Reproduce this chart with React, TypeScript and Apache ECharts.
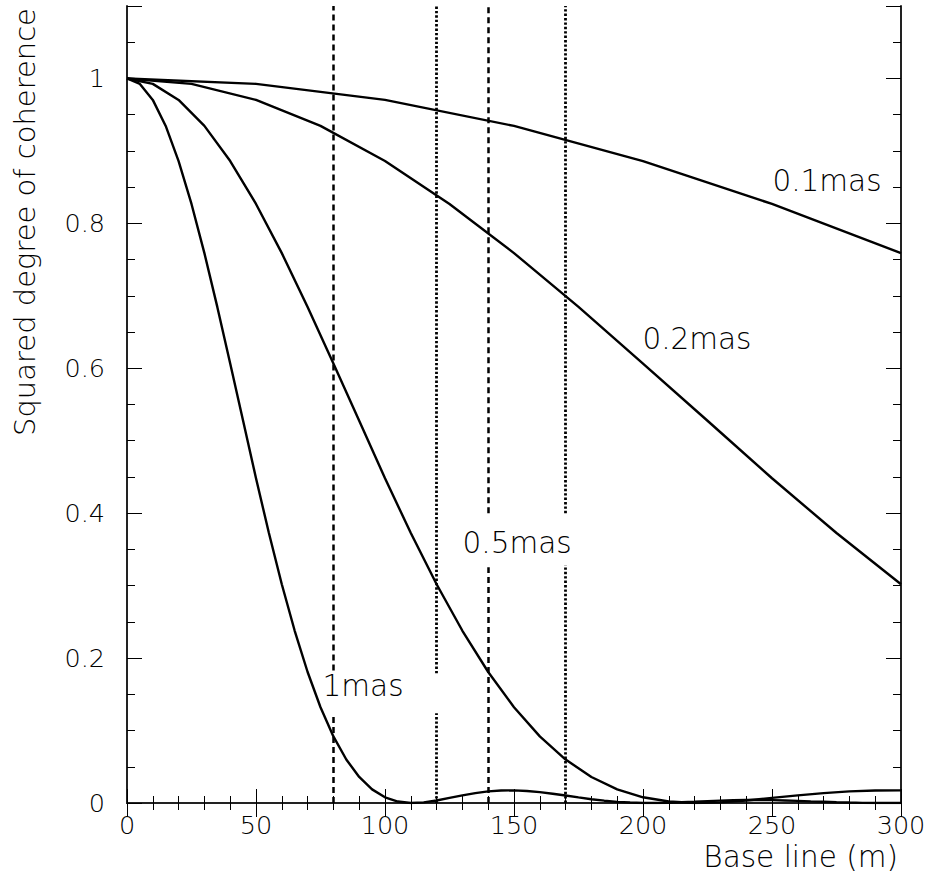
import React, { useEffect, useRef } from "react";
import * as echarts from "echarts";

// Baselines (m) at which each curve is sampled
const baseline1mas = [
  0, 5, 10, 15, 20, 25, 30, 35, 40, 45, 50, 55, 60, 65, 70, 75, 80, 85, 90, 95,
  100, 105, 110, 115, 120, 125, 130, 135, 140, 145, 150, 155, 160, 165, 170, 175,
  180, 185, 190, 195, 200, 205, 210, 215, 220, 225, 230, 235, 240, 245, 250, 255,
  260, 265, 270, 275, 280, 285, 290, 295, 300,
];
const coh1mas = [
  1.0, 0.9925, 0.9704, 0.9345, 0.886, 0.8268, 0.7589, 0.6847, 0.6065, 0.5276,
  0.4482, 0.3726, 0.3019, 0.2377, 0.1808, 0.1322, 0.0919, 0.06, 0.0359, 0.0188,
  0.0079, 0.002, 0.0, 0.0009, 0.0035, 0.007, 0.0105, 0.0137, 0.016, 0.0173,
  0.0174, 0.0166, 0.015, 0.0128, 0.0103, 0.0077, 0.0052, 0.0032, 0.0016, 0.0006,
  0.0001, 0.0, 0.0004, 0.0011, 0.0018, 0.0026, 0.0033, 0.0038, 0.0041, 0.0041,
  0.0039, 0.0035, 0.003, 0.0023, 0.0017, 0.0011, 0.0006, 0.0002, 0.0, 0.0, 0.0001,
];

const baseline05mas = [
  0, 10, 20, 30, 40, 50, 60, 70, 80, 90, 100, 110, 120, 130, 140, 150, 160, 170,
  180, 190, 200, 210, 220, 230, 240, 250, 260, 270, 280, 290, 300,
];
const coh05mas = [
  1.0, 0.9925, 0.9704, 0.9345, 0.886, 0.8268, 0.7589, 0.6847, 0.6065, 0.5276,
  0.4482, 0.3726, 0.3019, 0.2377, 0.1808, 0.1322, 0.0919, 0.06, 0.0359, 0.0188,
  0.0079, 0.002, 0.0, 0.0009, 0.0035, 0.007, 0.0105, 0.0137, 0.016, 0.0173, 0.0174,
];

const baseline02mas = [0, 25, 50, 75, 100, 125, 150, 175, 200, 225, 250, 275, 300];
const coh02mas = [
  1.0, 0.9925, 0.9704, 0.9345, 0.886, 0.8268, 0.7589, 0.6847, 0.6065, 0.5276,
  0.4482, 0.3726, 0.3019,
];

const baseline01mas = [0, 50, 100, 150, 200, 250, 300];
const coh01mas = [1.0, 0.9925, 0.9704, 0.9345, 0.886, 0.8268, 0.7589];

// Reference baselines (vertical lines) and the gaps in them [low, high]
const dashedBaselines = [80, 140];
const dashedGaps = [
  [0.122, 0.183],
  [0.3255, 0.4],
];
const dottedBaselines = [120, 170];
const dottedGaps = [
  [0.124, 0.179],
  [0.328, 0.4],
];

// Curve labels: text and position in data units
const curveLabels = ["0.1mas", "0.2mas", "0.5mas", "1mas"];
const curveLabelX = [271.3, 220.9, 151.2, 91.5];
const curveLabelY = [0.859, 0.641, 0.359, 0.161];

const xTitle = "Base line (m)";
const yTitle = "Squared degree of coherence";

const FONT = "'DejaVu Sans', 'Liberation Sans', sans-serif";

function pairs(xs: number[], ys: number[]) {
  return xs.map((x, i) => [x, ys[i]]);
}

export default function App() {
  const ref = useRef<HTMLDivElement>(null);

  useEffect(() => {
    document.body.style.margin = "0";
    if (!ref.current) return;
    const chart = echarts.init(ref.current, null, { renderer: "svg" });

    const axisLine = { show: true, lineStyle: { color: "#222", width: 2 } };

    const vSegments = (xs: number[], gaps: number[][]) => {
      const out: any[] = [];
      xs.forEach((x, i) => {
        out.push([{ coord: [x, 0] }, { coord: [x, gaps[i][0]] }]);
        out.push([{ coord: [x, gaps[i][1]] }, { coord: [x, 1.1] }]);
      });
      return out;
    };

    const curveSeries = (name: string, data: number[][]) => ({
      name,
      type: "line",
      data,
      symbol: "none",
      smooth: false,
      lineStyle: { color: "#000", width: 2.4 },
      xAxisIndex: 0,
      yAxisIndex: 0,
      z: 3,
    });

    const option: any = {
      animation: false,
      backgroundColor: "#fff",
      grid: { left: 127, right: 30, top: 6, bottom: 73, containLabel: false },
      xAxis: [
        {
          type: "value",
          position: "bottom",
          min: 0,
          max: 300,
          interval: 50,
          axisLine,
          axisTick: { show: true, inside: true, length: 14, lineStyle: { color: "#000", width: 1 } },
          minorTick: { show: true, splitNumber: 5, length: 7, lineStyle: { color: "#000", width: 1 } },
          splitLine: { show: false },
          axisLabel: {
            show: true,
            margin: 9,
            lineHeight: 26,
            fontSize: 25.5,
            color: "#000",
            fontFamily: FONT,
            fontWeight: 200,
          },
        },
        {
          type: "value",
          position: "top",
          min: 0,
          max: 300,
          interval: 50,
          axisLine,
          axisTick: { show: true, inside: true, length: 14, lineStyle: { color: "#000", width: 1 } },
          minorTick: { show: true, splitNumber: 5, length: 7, lineStyle: { color: "#000", width: 1 } },
          splitLine: { show: false },
          axisLabel: { show: false },
        },
      ],
      yAxis: [
        {
          type: "value",
          position: "left",
          min: 0,
          max: 1.1,
          interval: 0.2,
          axisLine,
          axisTick: { show: true, inside: true, length: 15, lineStyle: { color: "#000", width: 1 } },
          splitLine: { show: false },
          axisLabel: {
            show: true,
            margin: 22,
            fontSize: 25.5,
            color: "#000",
            fontFamily: FONT,
            fontWeight: 200,
            formatter: (v: number) => (v > 1.05 ? "" : String(Math.round(v * 10) / 10)),
          },
        },
        {
          type: "value",
          position: "left",
          min: 0,
          max: 1.1,
          interval: 0.05,
          axisLine: { show: false },
          axisTick: { show: true, inside: true, length: 8, lineStyle: { color: "#000", width: 1 } },
          splitLine: { show: false },
          axisLabel: { show: false },
        },
        {
          type: "value",
          position: "right",
          min: 0,
          max: 1.1,
          interval: 0.2,
          axisLine,
          axisTick: { show: true, inside: true, length: 15, lineStyle: { color: "#000", width: 1 } },
          splitLine: { show: false },
          axisLabel: { show: false },
        },
        {
          type: "value",
          position: "right",
          min: 0,
          max: 1.1,
          interval: 0.05,
          axisLine: { show: false },
          axisTick: { show: true, inside: true, length: 8, lineStyle: { color: "#000", width: 1 } },
          splitLine: { show: false },
          axisLabel: { show: false },
        },
      ],
      series: [
        curveSeries("0.1mas", pairs(baseline01mas, coh01mas)),
        curveSeries("0.2mas", pairs(baseline02mas, coh02mas)),
        curveSeries("0.5mas", pairs(baseline05mas, coh05mas)),
        curveSeries("1mas", pairs(baseline1mas, coh1mas)),
        {
          name: "refs",
          type: "line",
          data: [],
          xAxisIndex: 0,
          yAxisIndex: 0,
          symbol: "none",
          markLine: {
            silent: true,
            symbol: "none",
            label: { show: false },
            animation: false,
            data: [
              ...vSegments(dashedBaselines, dashedGaps).map((d: any) => {
                d[0].lineStyle = { color: "#000", width: 2.5, type: [6, 4] };
                return d;
              }),
              ...vSegments(dottedBaselines, dottedGaps).map((d: any) => {
                d[0].lineStyle = { color: "#000", width: 2.8, type: [2.4, 2.0] };
                return d;
              }),
            ],
          },
          markPoint: {
            silent: true,
            symbol: "circle",
            symbolSize: 0,
            animation: false,
            label: {
              show: true,
              position: "inside",
              fontSize: 29.5,
              color: "#000",
              fontFamily: FONT,
              fontWeight: 200,
            },
            data: curveLabels.map((t, i) => ({
              coord: [curveLabelX[i], curveLabelY[i]],
              label: { formatter: t },
            })),
          },
        },
      ],
      graphic: [
        {
          type: "text",
          right: 33,
          top: 842,
          style: { text: xTitle, fontSize: 29.5, fill: "#000", fontFamily: FONT, fontWeight: 200 },
        },
        {
          type: "text",
          x: 25,
          y: 222,
          rotation: Math.PI / 2,
          style: {
            text: yTitle,
            fontSize: 29,
            fill: "#000",
            fontFamily: FONT,
            fontWeight: 200,
            align: "center",
            verticalAlign: "middle",
          },
        },
      ],
    };

    chart.setOption(option);
    return () => chart.dispose();
  }, []);

  return <div ref={ref} style={{ width: 931, height: 876 }} />;
}
